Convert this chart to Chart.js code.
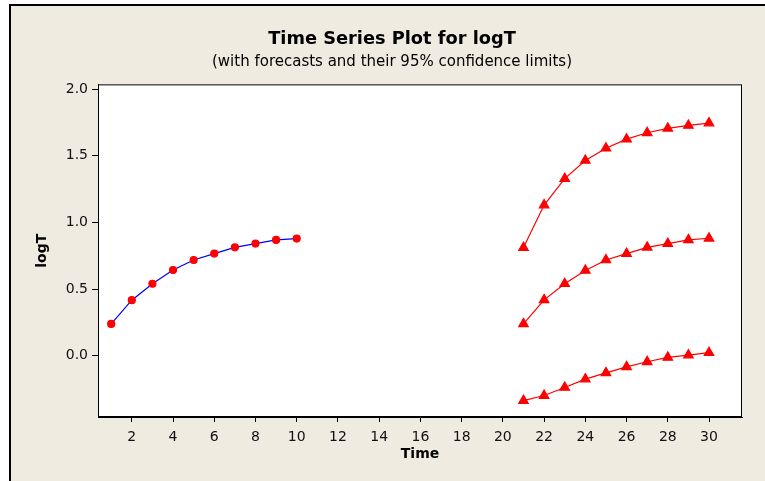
<!DOCTYPE html>
<html>
<head>
<meta charset="utf-8">
<script src="https://cdn.jsdelivr.net/npm/chart.js@4"></script>
<style>
  html, body { margin: 0; padding: 0; background: #fff; }
  #wrap { width: 765px; height: 481px; }
</style>
</head>
<body>
<div id="wrap"><canvas id="tsChart" width="765" height="481"></canvas></div>
<script>
// Data
const timeHist = [1, 2, 3, 4, 5, 6, 7, 8, 9, 10];
const logT = [0.239, 0.417, 0.540, 0.643, 0.718, 0.766, 0.813, 0.841, 0.869, 0.879];

const timeFc = [21, 22, 23, 24, 25, 26, 27, 28, 29, 30];
const forecast = [0.239, 0.419, 0.540, 0.640, 0.718, 0.766, 0.813, 0.841, 0.869, 0.881];
const upper95 = [0.811, 1.130, 1.328, 1.464, 1.556, 1.624, 1.672, 1.705, 1.727, 1.745];
const lower95 = [-0.336, -0.298, -0.238, -0.175, -0.128, -0.083, -0.045, -0.012, 0.005, 0.023];

const xTicks = [2, 4, 6, 8, 10, 12, 14, 16, 18, 20, 22, 24, 26, 28, 30];
const yTicks = [0.0, 0.5, 1.0, 1.5, 2.0];

const pts = (xs, ys) => xs.map((x, i) => ({ x: x, y: ys[i] }));

const FONT = "'DejaVu Sans', Verdana, sans-serif";
const BEIGE = '#efebe1';

// background, outer border and white plot area with frame
const framePlugin = {
    id: 'frame',
    beforeDraw(chart) {
        const c = chart.ctx;
        const a = chart.chartArea;
        c.save();
        c.fillStyle = '#ffffff';
        c.fillRect(0, 0, chart.width, chart.height);
        c.fillStyle = BEIGE;
        c.fillRect(9, 4, chart.width - 9, chart.height - 4);
        c.fillStyle = '#000000';
        c.fillRect(9, 4, 2, chart.height - 4);
        c.fillRect(9, 4, chart.width - 9, 2);
        c.fillStyle = '#ffffff';
        c.fillRect(a.left, a.top, a.right - a.left, a.bottom - a.top);
        c.restore();
    },
    afterDraw(chart) {
        const c = chart.ctx;
        const a = chart.chartArea;
        c.save();
        c.strokeStyle = '#000000';
        c.lineWidth = 1;
        c.strokeRect(a.left + 0.5, a.top + 0.5, a.right - a.left - 1, a.bottom - a.top - 1);
        c.restore();
    }
};

const lineRed = (data) => ({
    data: data,
    borderColor: '#ff0000',
    borderWidth: 1.2,
    pointStyle: 'triangle',
    pointRadius: 5.5,
    pointBackgroundColor: '#ff0000',
    pointBorderColor: '#ff0000',
    tension: 0
});

new Chart(document.getElementById('tsChart').getContext('2d'), {
    type: 'line',
    data: {
        datasets: [
            {
                label: 'logT',
                data: pts(timeHist, logT),
                borderColor: '#0000ff',
                borderWidth: 1.2,
                pointStyle: 'circle',
                pointRadius: 3.5,
                pointBackgroundColor: '#ff0000',
                pointBorderColor: '#ff0000',
                tension: 0
            },
            Object.assign({ label: 'Upper' }, lineRed(pts(timeFc, upper95))),
            Object.assign({ label: 'Forecast' }, lineRed(pts(timeFc, forecast))),
            Object.assign({ label: 'Lower' }, lineRed(pts(timeFc, lower95)))
        ]
    },
    options: {
        responsive: false,
        animation: false,
        layout: { padding: { left: 42, right: 23, top: 0, bottom: 0 } },
        scales: {
            x: {
                type: 'linear',
                min: 0.36,
                max: 31.6,
                afterBuildTicks: (s) => { s.ticks = xTicks.map(v => ({ value: v })); },
                afterFit: (s) => { s.height = 64; },
                border: { display: true, color: '#000', width: 1 },
                grid: { drawOnChartArea: false, drawTicks: true, tickLength: 5, color: '#000' },
                ticks: { color: '#111', font: { family: FONT, size: 14 }, padding: 7, maxRotation: 0, autoSkip: false },
                title: { display: true, text: 'Time', color: '#000', font: { family: FONT, size: 14, weight: 'bold' }, padding: { top: 0, bottom: 18 } }
            },
            y: {
                type: 'linear',
                min: -0.459,
                max: 2.035,
                afterBuildTicks: (s) => { s.ticks = yTicks.map(v => ({ value: v })); },
                afterFit: (s) => { s.width = 56; },
                border: { display: true, color: '#000', width: 1 },
                grid: { drawOnChartArea: false, drawTicks: true, tickLength: 6, color: '#000' },
                ticks: { color: '#111', font: { family: FONT, size: 14 }, padding: 4, callback: (v) => Number(v).toFixed(1) },
                title: { display: true, text: 'logT', color: '#000', font: { family: FONT, size: 14, weight: 'bold' }, padding: { top: -8, bottom: 0 } }
            }
        },
        plugins: {
            legend: { display: false },
            tooltip: { enabled: false },
            title: {
                display: true,
                text: 'Time Series Plot for logT',
                color: '#000',
                font: { family: FONT, size: 17.8, weight: 'bold', lineHeight: 1.2 },
                padding: { top: 29, bottom: 1 }
            },
            subtitle: {
                display: true,
                text: '(with forecasts and their 95% confidence limits)',
                color: '#000',
                font: { family: FONT, size: 15, weight: 'normal', lineHeight: 1.2 },
                padding: { top: 2, bottom: 13 }
            }
        }
    },
    plugins: [framePlugin]
});
</script>
</body>
</html>
